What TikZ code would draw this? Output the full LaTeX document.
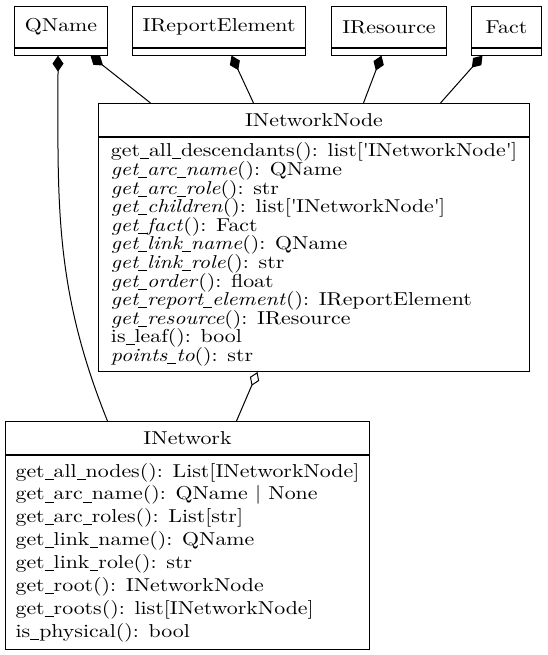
\documentclass[tikz,border=0pt]{standalone}
\usepackage{fontspec}
\setmainfont{lmroman10}[Extension=.otf, UprightFont=*-regular, ItalicFont=*-italic, BoldFont=*-bold, FakeStretch=1.17]
\usetikzlibrary{positioning}
\usetikzlibrary{arrows.meta}
\newcommand{\us}{\rule[-0.13em]{0.48em}{0.045em}}
\newcommand{\umlfont}[1]{\fontsize{18.67}{#1}\selectfont\lineskiplimit=-20pt\relax}

\begin{document}
\begin{tikzpicture}[x=1pt, y=-1pt, line width=1pt, font=\umlfont{18.6},
    classbox/.style = {draw, anchor=north west, inner sep=0pt},
    attrbox/.style  = {draw, inner xsep=4pt, inner ysep=0pt, align=left, below=0pt of #1},
    comp/.style     = {-{Diamond[length=16pt, width=11pt]}},
    aggr/.style     = {-{Diamond[open, length=15pt, width=10pt]}}]
    \useasboundingbox (0,0) rectangle (548,655);
    % top row of classes
    \node[classbox, minimum width=93, minimum height=41] (qname) at (14,6) {QName};
    \node[attrbox=qname, minimum width=93, minimum height=6.6] (qnameb) {};
    \node[classbox, minimum width=173, minimum height=41] (repel) at (132,6) {IReportElement};
    \node[attrbox=repel, minimum width=173, minimum height=6.6] (repelb) {};
    \node[classbox, minimum width=115, minimum height=41] (res) at (331,6) {IResource};
    \node[attrbox=res, minimum width=115, minimum height=6.6] (resb) {};
    \node[classbox, minimum width=70, minimum height=41] (fact) at (471,6) {Fact};
    \node[attrbox=fact, minimum width=70, minimum height=6.6] (factb) {};
    %
    \node[classbox, minimum width=431, minimum height=33] (netnode) at (98,103) {INetworkNode};
    \node[attrbox=netnode, minimum width=431, minimum height=234] (netnodeb) {%
      get\us all\us descendants(): list[\textquotesingle INetworkNode\textquotesingle]\\
      \textit{get\us arc\us name}(): QName\\
      \textit{get\us arc\us role}(): str\\
      \textit{get\us children}(): list[\textquotesingle INetworkNode\textquotesingle]\\
      \textit{get\us fact}(): Fact\\
      \textit{get\us link\us name}(): QName\\
      \textit{get\us link\us role}(): str\\
      \textit{get\us order}(): float\\
      \textit{get\us report\us element}(): IReportElement\\
      \textit{get\us resource}(): IResource\\
      is\us leaf(): bool\\
      \textit{points\us to}(): str};
    %
    \node[classbox, minimum width=364, minimum height=33] (net) at (5,421) {INetwork};
    \node[attrbox=net, minimum width=364, minimum height=194, font=\umlfont{22.9}] (netb) {%
      get\us all\us nodes(): List[INetworkNode]\\
      get\us arc\us name(): QName | None\\
      get\us arc\us roles(): List[str]\\
      get\us link\us name(): QName\\
      get\us link\us role(): str\\
      get\us root(): INetworkNode\\
      get\us roots(): list[INetworkNode]\\
      is\us physical(): bool};
    % connectors
    \draw[comp] ([xshift=-80]net.north) to[out=112, in=-90] ([xshift=-3]qnameb.south);
    \draw[comp] ([xshift=-163.5]netnode.north) -- ([xshift=29.5]qnameb.south);
    \draw[comp] ([xshift=-60.5]netnode.north) -- ([xshift=12.5]repelb.south);
    \draw[comp] ([xshift=49.5]netnode.north) -- ([xshift=-7.5]resb.south);
    \draw[comp] ([xshift=126.5]netnode.north) -- ([xshift=-24]factb.south);
    \draw[aggr] ([xshift=49]net.north) -- ([xshift=-56.5]netnodeb.south);
\end{tikzpicture}
\end{document}
